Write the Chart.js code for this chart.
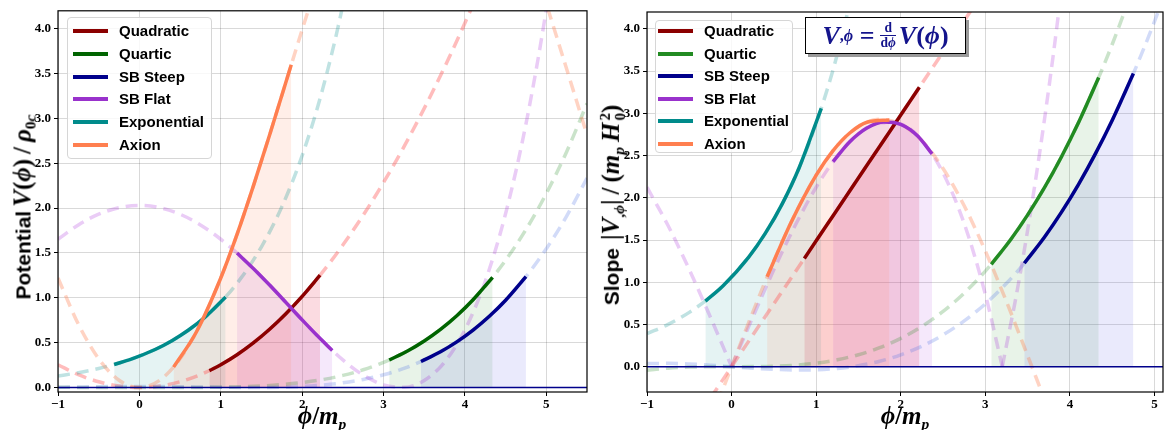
<!DOCTYPE html>
<html>
<head>
<meta charset="UTF-8">
<title>Potentials and slopes</title>
<script src="https://cdn.jsdelivr.net/npm/chart.js"></script>
<style>
  body { margin: 0; width: 1167px; height: 430px; overflow: hidden; position: relative; background: #fff; }
  canvas { position: absolute; top: 0; }
  #cV { left: 0; }
  #cS { left: 590px; }
  .legend { position: absolute; box-sizing: border-box; background: rgba(255,255,255,0.8); border: 1px solid #d6d6d6; border-radius: 4px; }
  .legend .sw { position: absolute; height: 4px; margin-top: -2px; }
  .legend .tx { position: absolute; font: bold 15px "Liberation Sans", sans-serif; line-height: 16px; margin-top: -8px; white-space: nowrap; color: #000; }
  .m { font-family: "Liberation Serif", serif; font-weight: bold; }
  .m sub { font-size: 0.62em; vertical-align: -0.3em; line-height: 0; }
  .sans { font-family: "Liberation Sans", sans-serif; font-weight: bold; }
  .ylab { position: absolute; white-space: nowrap; transform: translate(-50%, -50%) rotate(-90deg); line-height: 1; }
  .ylab .sans { font-size: 21px; }
  .ylab .m { font-size: 25px; }
  .xlab { position: absolute; top: 403px; transform: translateX(-50%); font-size: 25px; line-height: 1; white-space: nowrap; }
  .ss { display: inline-flex; flex-direction: column; font-size: 0.6em; line-height: 1; vertical-align: middle; margin-left: 2px; }
  #ann { position: absolute; left: 805px; top: 17px; width: 161px; height: 37px; box-sizing: border-box; border: 1.5px solid #000; background: #fff;
         box-shadow: 3px 3px 0 #9a9a9a; display: flex; align-items: center; justify-content: center; color: #14148c; font-size: 26px; white-space: nowrap; }
  .fr { display: inline-flex; flex-direction: column; font-size: 0.52em; line-height: 1.05; vertical-align: middle; text-align: center; margin: 0 3px 0 6px; font-style: normal; }
  .fr span:first-child { border-bottom: 1.4px solid #14148c; }
</style>
</head>
<body>
<canvas id="cV" width="590" height="430"></canvas>
<canvas id="cS" width="577" height="430"></canvas>

<div class="ylab" style="left:22px;top:207px"><span class="sans">Potential</span> <span class="m"><i>V</i>(<i>ϕ</i>)&thinsp;/&thinsp;<i>ρ</i><sub>0<i>c</i></sub></span></div>
<div class="ylab" style="left:613px;top:205px"><span class="sans">Slope</span>&nbsp;&nbsp;<span class="m">|<i>V</i><sub>,<i>ϕ</i></sub>|&thinsp;/&thinsp;(<i>m</i><sub><i>p</i></sub>&thinsp;<i>H</i><span class="ss"><span>2</span><span>0</span></span>)</span></div>
<div class="xlab m" style="left:322px"><i>ϕ</i>/<i>m</i><sub><i>p</i></sub></div>
<div class="xlab m" style="left:905px"><i>ϕ</i>/<i>m</i><sub><i>p</i></sub></div>
<div id="ann" class="m"><i>V</i><sub>,<i>ϕ</i></sub>&nbsp;=<span class="fr"><span>d</span><span>d<i>ϕ</i></span></span><i>V</i>(<i>ϕ</i>)</div>

<script>
// field values on a common grid, step 0.25
const grid = [-1, -0.75, -0.5, -0.25, 0, 0.25, 0.5, 0.75, 1, 1.25, 1.5, 1.75, 2, 2.25, 2.5, 2.75,
              3, 3.25, 3.5, 3.75, 4, 4.25, 4.5, 4.75, 5, 5.25, 5.5];

const names = ['Quadratic', 'Quartic', 'SB Steep', 'SB Flat', 'Exponential', 'Axion'];

// tick labels
const xTicks = [-1, 0, 1, 2, 3, 4, 5];
const yTicks = [0, 0.5, 1, 1.5, 2, 2.5, 3, 3.5, 4];

// potential V(phi)/rho_0c, full curves (dashed)
const quadV  = [0.254, 0.143, 0.064, 0.016, 0, 0.016, 0.064, 0.143, 0.254, 0.397, 0.572, 0.778, 1.016, 1.286, 1.588, 1.921, 2.286, 2.683, 3.112, 3.572, 4.064, 4.588, 5.144];
const quartV = [0.0035, 0.0011, 0.0002, 0, 0, 0, 0.0002, 0.0011, 0.0035, 0.0084, 0.0175, 0.0325, 0.0554, 0.0887, 0.135, 0.198, 0.280, 0.386, 0.519, 0.684, 0.886, 1.129, 1.419, 1.761, 2.163, 2.629, 3.166];
const steepV = [0.0031, 0.0063, 0.0093, 0.0114, 0.0121, 0.0114, 0.0093, 0.0063, 0.0031, 0.0006, 0.0001, 0.0031, 0.0114, 0.027, 0.052, 0.090, 0.142, 0.213, 0.306, 0.425, 0.572, 0.754, 0.973, 1.236, 1.547, 1.911, 2.335];
const flatV  = [1.653, 1.813, 1.932, 2.005, 2.030, 2.005, 1.932, 1.813, 1.653, 1.458, 1.236, 0.997, 0.754, 0.519, 0.308, 0.139, 0.030, 0.002, 0.078, 0.283, 0.642, 1.185, 1.940, 2.939, 4.218, 5.81];
const expV   = [0.129, 0.165, 0.212, 0.273, 0.35, 0.449, 0.577, 0.741, 0.951, 1.222, 1.569, 2.014, 2.586, 3.321, 4.264, 5.475];
const axV    = [1.221, 0.707, 0.321, 0.081, 0, 0.081, 0.321, 0.707, 1.221, 1.838, 2.527, 3.256, 3.989, 4.689, 5.323, 5.860, 6.274, 6.543, 6.657, 6.608, 6.400, 6.041, 5.551, 4.954, 4.275, 3.551, 2.816];

// slope, full curves (dashed)
const quadS  = [-1.49, -1.118, -0.745, -0.373, 0, 0.373, 0.745, 1.118, 1.49, 1.863, 2.235, 2.608, 2.98, 3.353, 3.725, 4.098, 4.47];
const quartS = [-0.0419, -0.0177, -0.0052, -0.0007, 0, 0.0007, 0.0052, 0.0177, 0.0419, 0.0818, 0.1414, 0.2245, 0.3352, 0.4772, 0.6547, 0.8715, 1.131, 1.438, 1.797, 2.209, 2.682, 3.217, 3.818, 4.492];
const steepS = [0.0367, 0.0392, 0.0317, 0.0175, 0, -0.0175, -0.0317, -0.0392, -0.0367, -0.0208, 0.0117, 0.0643, 0.140, 0.243, 0.376, 0.542, 0.744, 0.987, 1.273, 1.606, 1.989, 2.426, 2.919, 3.472, 4.089, 4.771];
const expS   = [0.390, 0.501, 0.643, 0.826, 1.06, 1.361, 1.748, 2.244, 2.881, 3.699, 4.751];
const axS    = [-2.268, -1.805, -1.255, -0.643, 0, 0.643, 1.255, 1.805, 2.268, 2.619, 2.844, 2.929, 2.872, 2.675, 2.347, 1.905, 1.370, 0.769, 0.130, -0.516, -1.136];
const flatSPhi = [-1, -0.75, -0.5, -0.25, 0, 0.25, 0.5, 0.75, 1, 1.25, 1.5, 1.75, 2, 2.25, 2.5, 2.75, 3, 3.2, 3.4, 3.6, 3.8, 4.0];
const flatS    = [2.125, 1.669, 1.149, 0.585, 0, 0.585, 1.149, 1.669, 2.125, 2.495, 2.757, 2.889, 2.870, 2.679, 2.294, 1.694, 0.856, 0, 1.032, 2.252, 3.671, 5.299];

// highlighted ranges (solid + shaded)
const segPhi = [
  [0.86, 1.0, 1.2, 1.4, 1.6, 1.8, 2.0, 2.22],
  [3.07, 3.3, 3.5, 3.7, 3.9, 4.1, 4.34],
  [3.46, 3.7, 3.9, 4.1, 4.3, 4.5, 4.75],
  [1.2, 1.4, 1.6, 1.8, 2.0, 2.2, 2.37],
  [-0.31, -0.1, 0.2, 0.4, 0.6, 0.8, 1.06],
  [0.42, 0.7, 1.0, 1.2, 1.4, 1.6, 1.866]
];
const segV = [
  [0.188, 0.254, 0.366, 0.498, 0.650, 0.823, 1.016, 1.252],
  [0.307, 0.410, 0.519, 0.648, 0.800, 0.978, 1.228],
  [0.290, 0.399, 0.509, 0.640, 0.794, 0.973, 1.236],
  [1.499, 1.327, 1.142, 0.949, 0.754, 0.565, 0.414],
  [0.257, 0.317, 0.427, 0.522, 0.638, 0.779, 1.010],
  [0.227, 0.619, 1.221, 1.707, 2.245, 2.816, 3.598]
];
const segS = [
  [1.281, 1.49, 1.788, 2.086, 2.384, 2.682, 2.98, 3.308],
  [1.212, 1.506, 1.797, 2.122, 2.486, 2.888, 3.425],
  [1.225, 1.536, 1.830, 2.157, 2.520, 2.919, 3.472],
  [2.429, 2.666, 2.826, 2.898, 2.870, 2.732, 2.520],
  [0.777, 0.959, 1.295, 1.581, 1.931, 2.359, 3.060],
  [1.064, 1.701, 2.268, 2.559, 2.770, 2.895, 2.921]
];

const xRangeV = [-1, 5.5], yRangeV = [-0.05, 4.2];
const xRangeS = [-1, 5.1], yRangeS = [-0.3, 4.2];

const solidV = ['#8b0000', '#006400', '#00008b', '#9932cc', '#008b8b', '#ff7f50'];
const solidS = ['#8b0000', '#228b22', '#00008b', '#9932cc', '#008b8b', '#ff7f50'];
const dashCol = ['rgba(255,95,95,0.42)', 'rgba(34,139,34,0.24)', 'rgba(65,105,225,0.24)', 'rgba(148,0,211,0.2)', 'rgba(0,139,139,0.25)', 'rgba(255,127,80,0.34)'];
const fillCol = ['rgba(230,30,70,0.16)', 'rgba(34,139,34,0.1)', 'rgba(60,60,230,0.11)', 'rgba(148,0,211,0.09)', 'rgba(0,139,139,0.1)', 'rgba(255,127,80,0.13)'];

const pts = (xs, ys) => ys.map((y, i) => ({ x: xs[i], y: y }));

function line(data, color, width, dash) {
  return { data, borderColor: color, borderWidth: width, borderDash: dash || [], pointRadius: 0,
           cubicInterpolationMode: 'monotone', fill: false, clip: 0, borderCapStyle: 'butt' };
}
function area(data, color) {
  return { data, borderColor: 'rgba(0,0,0,0)', borderWidth: 1, backgroundColor: color, pointRadius: 0,
           cubicInterpolationMode: 'monotone', fill: 'origin', clip: 0 };
}

function buildSets(full, seg, solid, xr) {
  const layers = [];
  seg.forEach((s, i) => layers.push(area(pts(segPhi[i], s), fillCol[i])));
  full.forEach((f, i) => f.forEach(d => layers.push(line(d, dashCol[i], 3.5, [12, 7]))));
  layers.push(line([{ x: xr[0], y: 0 }, { x: xr[1], y: 0 }], '#00008b', 1.5));
  seg.forEach((s, i) => layers.push(line(pts(segPhi[i], s), solid[i], 3.5)));
  return layers.reverse();   // first dataset is drawn on top
}

// split |V,phi| of SB Flat at its kinks
function splitAtZeros(xs, ys) {
  const parts = []; let cur = [];
  ys.forEach((y, i) => {
    cur.push({ x: xs[i], y });
    if (y === 0 && i > 0 && i < ys.length - 1) { parts.push(cur); cur = [{ x: xs[i], y }]; }
  });
  parts.push(cur);
  return parts;
}

const frame = {
  id: 'frame',
  afterDatasetsDraw(c) {
    const a = c.chartArea, ctx = c.ctx;
    ctx.save();
    ctx.strokeStyle = '#000'; ctx.lineWidth = 1.2;
    ctx.strokeRect(a.left, a.top, a.right - a.left, a.bottom - a.top);
    ctx.restore();
  }
};

const tickFont = { family: 'Liberation Serif', size: 13, weight: 'bold' };
const gridOpt = { color: 'rgba(0,0,0,0.15)', tickColor: '#000', tickLength: 4, lineWidth: 1 };

function options(xr, yr, yW, pad) {
  return {
    responsive: false, animation: false, devicePixelRatio: 1,
    layout: { padding: pad },
    plugins: { legend: { display: false }, tooltip: { enabled: false } },
    scales: {
      x: { type: 'linear', min: xr[0], max: xr[1], afterFit(s) { s.height = 38; },
           afterBuildTicks(s) { s.ticks = xTicks.map(v => ({ value: v })); },
           ticks: { padding: 1, color: '#000', font: tickFont, maxRotation: 0, autoSkip: false,
                    callback: v => v < 0 ? '\u2212' + Math.abs(v) : String(v) },
           grid: gridOpt, border: { display: false } },
      y: { type: 'linear', min: yr[0], max: yr[1], afterFit(s) { s.width = yW; },
           afterBuildTicks(s) { s.ticks = yTicks.map(v => ({ value: v })); },
           ticks: { padding: 3, color: '#000', font: tickFont, autoSkip: false,
                    callback: v => v.toFixed(1) },
           grid: gridOpt, border: { display: false } }
    }
  };
}

const fullV = [
  [pts(grid, quadV)], [pts(grid, quartV)], [pts(grid, steepV)], [pts(grid, flatV)], [pts(grid, expV)], [pts(grid, axV)]
];
const fullS = [
  [pts(grid, quadS)], [pts(grid, quartS)], [pts(grid, steepS)], splitAtZeros(flatSPhi, flatS), [pts(grid, expS)], [pts(grid, axS)]
];

new Chart(document.getElementById('cV'), {
  type: 'line',
  data: { datasets: buildSets(fullV, segV, solidV, xRangeV) },
  options: options(xRangeV, yRangeV, 58, { top: 9, right: 3, left: 0, bottom: 0 }),
  plugins: [frame]
});
new Chart(document.getElementById('cS'), {
  type: 'line',
  data: { datasets: buildSets(fullS, segS, solidS, xRangeS) },
  options: options(xRangeS, yRangeS, 57, { top: 12, right: 4, left: 0, bottom: 0 }),
  plugins: [frame]
});

// legends
function legend(box, colors) {
  const el = document.createElement('div');
  el.className = 'legend';
  el.style.left = box.left + 'px'; el.style.top = box.top + 'px';
  el.style.width = box.w + 'px'; el.style.height = box.h + 'px';
  names.forEach((n, i) => {
    const y = box.first + i * box.step;
    const sw = document.createElement('div');
    sw.className = 'sw';
    sw.style.left = box.sw + 'px'; sw.style.width = '35px'; sw.style.top = y + 'px';
    sw.style.background = colors[i];
    const tx = document.createElement('div');
    tx.className = 'tx';
    tx.style.left = box.tx + 'px'; tx.style.top = y + 'px';
    tx.textContent = n;
    el.appendChild(sw); el.appendChild(tx);
  });
  document.body.appendChild(el);
}
legend({ left: 67, top: 17, w: 145, h: 142, first: 13, step: 22.8, sw: 5, tx: 51 }, solidV);
legend({ left: 655, top: 20, w: 138, h: 133, first: 10, step: 22.6, sw: 2, tx: 48 }, solidS);
</script>
</body>
</html>
